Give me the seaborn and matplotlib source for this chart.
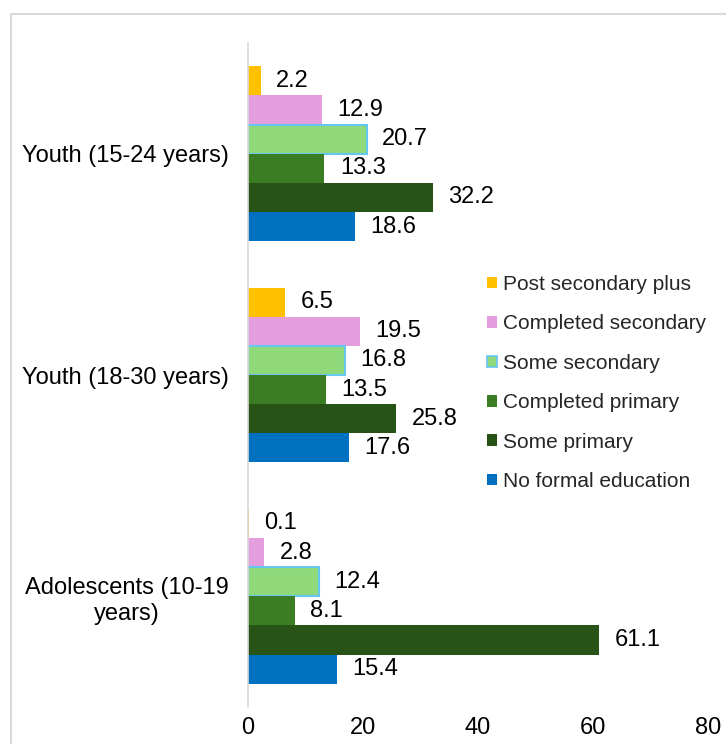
import pandas as pd
import numpy as np
import seaborn as sns
import matplotlib.pyplot as plt
from matplotlib.patches import Patch, Rectangle

sns.set_style("white")
plt.rcParams['font.family'] = ['Liberation Sans', 'DejaVu Sans']

# data
groups = ['Youth (15-24 years)', 'Youth (18-30 years)', 'Adolescents (10-19\nyears)']
levels = ['Post secondary plus', 'Completed secondary', 'Some secondary',
          'Completed primary', 'Some primary', 'No formal education']
post_secondary_plus = [2.2, 6.5, 0.1]
completed_secondary = [12.9, 19.5, 2.8]
some_secondary = [20.7, 16.8, 12.4]
completed_primary = [13.3, 13.5, 8.1]
some_primary = [32.2, 25.8, 61.1]
no_formal_education = [18.6, 17.6, 15.4]
colors = ['#FFC000', '#E49EDD', '#8FD97A', '#3A7D22', '#275317', '#0070C0']

series = [post_secondary_plus, completed_secondary, some_secondary,
          completed_primary, some_primary, no_formal_education]
rows = []
for lev, vals in zip(levels, series):
    for g, v in zip(groups, vals):
        rows.append({'group': g, 'level': lev, 'value': v})
df = pd.DataFrame(rows)

fig = plt.figure(figsize=(7.26, 7.44), dpi=100)
ax = fig.add_axes([248/726, 1-707/744, 460/726, 664/744])

sns.barplot(data=df, y='group', x='value', hue='level', order=groups,
            hue_order=levels, palette=colors, saturation=1, width=0.79,
            orient='h', ax=ax, legend=False, linewidth=0)

# light blue outline on "Some secondary"
for p in ax.containers[2]:
    p.set_edgecolor('#66C6F2')
    p.set_linewidth(1.5)

for c in ax.containers:
    ax.bar_label(c, fmt='%.1f', padding=11, fontsize=17, color='black')

ax.set_xlim(0, 80)
ax.set_xticks([0, 20, 40, 60, 80])
ax.set_ylim(2.5, -0.5)
ax.set_xlabel('')
ax.set_ylabel('')
ax.tick_params(axis='x', length=0, pad=7, labelsize=17, colors='black')
ax.tick_params(axis='y', length=0, pad=14, labelsize=17, colors='black')
for lab in ax.get_yticklabels():
    lab.set_multialignment('center')
    lab.set_linespacing(1.25)

for s in ['top', 'right', 'bottom']:
    ax.spines[s].set_visible(False)
ax.spines['left'].set_color('#d9d9d9')
ax.spines['left'].set_linewidth(1.2)

handles = []
for lev, col in zip(levels, colors):
    if lev == 'Some secondary':
        handles.append(Patch(facecolor=col, edgecolor='#66C6F2', linewidth=1.2, label=lev))
    else:
        handles.append(Patch(facecolor=col, edgecolor='none', label=lev))
fig.legend(handles=handles, loc='upper left', bbox_to_anchor=(487/726, 1-275/744),
           frameon=False, fontsize=15, handlelength=0.48, handleheight=0.48,
           handletextpad=0.3, labelspacing=0.98, borderpad=0, borderaxespad=0)

# chart area border (cropped)
fig.patches.append(Rectangle((11/726, -0.1), 1.2, 1.1 - 14/744, transform=fig.transFigure,
                             fill=False, edgecolor='#d9d9d9', linewidth=1.5, zorder=0))

fig.savefig('out.png', dpi=100)
